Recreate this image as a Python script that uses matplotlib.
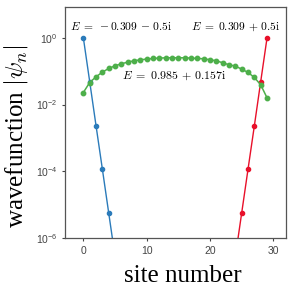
import numpy as np
import matplotlib
matplotlib.use('Agg')
import matplotlib.pyplot as plt

plt.rcParams['mathtext.fontset'] = 'cm'

# site indices
sites = np.arange(30)

# |psi_n| of the three eigenstates (log10 values)
left_sites = [0, 1, 2, 3, 4, 5]
left_log = [0.0, -1.31, -2.63, -3.93, -5.24, -6.55]
right_sites = [24, 25, 26, 27, 28, 29]
right_log = [-6.55, -5.24, -3.93, -2.63, -1.31, 0.0]
bulk_log = [-1.64, -1.34, -1.17, -1.03, -0.92, -0.84, -0.78, -0.73, -0.69, -0.66,
            -0.64, -0.62, -0.61, -0.60, -0.60, -0.60, -0.60, -0.61, -0.62, -0.63,
            -0.66, -0.69, -0.75, -0.81, -0.85, -0.94, -1.04, -1.19, -1.41, -1.80]

left_psi = 10 ** np.array(left_log)
right_psi = 10 ** np.array(right_log)
bulk_psi = 10 ** np.array(bulk_log)

fig = plt.figure(figsize=(2.94, 2.94), dpi=100)
ax = fig.add_axes([0.221, 0.190, 0.752, 0.786])

ax.semilogy(left_sites, left_psi, '-o', color='#2b7bba', lw=1, ms=3)
ax.semilogy(right_sites, right_psi, '-o', color='#e8102a', lw=1, ms=3)
ax.semilogy(sites, bulk_psi, '-o', color='#4daf4a', lw=1.1, ms=3.2)

ax.set_xlim(-2.9, 32)
ax.set_ylim(1e-6, 8.3)
ax.set_yticks([1e-6, 1e-4, 1e-2, 1e0])
ax.set_xticks([0, 10, 20, 30])
ax.minorticks_off()

fs = 8.3
ax.text(6.0, 2.24, r'$E\;=\;-0.309\,-\,0.5\mathrm{i}$', fontsize=fs, ha='center', va='center')
ax.text(24.1, 2.24, r'$E\;=\;0.309\,+\,0.5\mathrm{i}$', fontsize=fs, ha='center', va='center')
ax.text(14.3, 0.076, r'$E\;=\;0.985\,+\,0.157\mathrm{i}$', fontsize=8.6, ha='center', va='center')

for s in ax.spines.values():
    s.set_color('#555555')
    s.set_linewidth(0.9)
ax.tick_params(colors='#444444', labelsize=7.5, length=2, width=0.8)
for lab in ax.get_xticklabels() + ax.get_yticklabels():
    lab.set_family('Liberation Sans')

ax.set_xlabel('site number', family='Liberation Serif', fontsize=18)
ax.set_ylabel(r'wavefunction $|\psi_n|$', family='Liberation Serif', fontsize=18)
ax.xaxis.set_label_coords(0.534, -0.115)
ax.yaxis.set_label_coords(-0.16, 0.44)

fig.savefig('out.png', dpi=100)
